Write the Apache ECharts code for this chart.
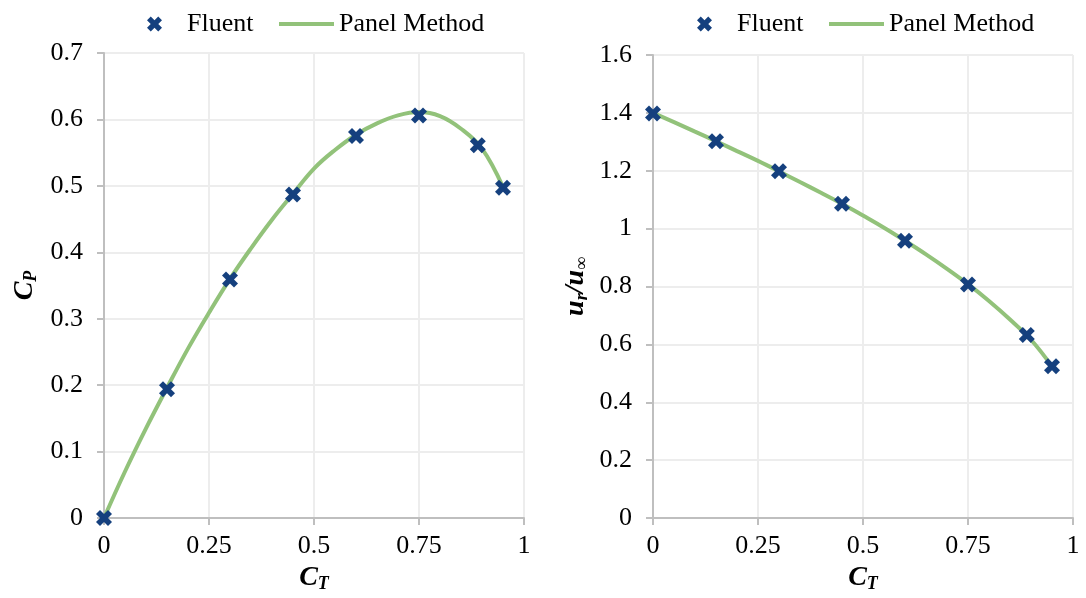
<!DOCTYPE html>
<html>
<head>
<meta charset="utf-8">
<script src="https://cdn.jsdelivr.net/npm/echarts@6/dist/echarts.min.js"></script>
<style>html,body{margin:0;padding:0;background:#fff;}#c{width:1086px;height:598px;}</style>
</head>
<body>
<div id="c"></div>
<script>
// Left chart: C_P vs C_T
var fluentCT = [0, 0.15, 0.3, 0.45, 0.6, 0.75, 0.89, 0.95];
var fluentCP = [0, 0.194, 0.359, 0.487, 0.575, 0.606, 0.561, 0.497];
var panelCT = [0, 0.05, 0.1, 0.15, 0.2, 0.25, 0.3, 0.35, 0.4, 0.45, 0.5, 0.55, 0.6, 0.65, 0.7, 0.75, 0.8, 0.85, 0.9, 0.95];
var panelCP = [0, 0.07, 0.135, 0.196, 0.255, 0.309, 0.36, 0.406, 0.449, 0.488, 0.526, 0.554, 0.577, 0.594, 0.606, 0.611, 0.605, 0.586, 0.556, 0.498];
// Right chart: u_r/u_inf vs C_T
var fluentUR = [1.398, 1.302, 1.198, 1.086, 0.958, 0.807, 0.632, 0.524];
var panelUR = [1.4, 1.368, 1.335, 1.302, 1.268, 1.234, 1.198, 1.161, 1.124, 1.086, 1.045, 1.003, 0.958, 0.911, 0.861, 0.808, 0.75, 0.686, 0.616, 0.524];
var xTicks = [0, 0.25, 0.5, 0.75, 1];

function zip(a, b) { return a.map(function (v, i) { return [v, b[i]]; }); }

var FONT = 'Liberation Serif';
var crossPath = 'path://M2.5,0 L5,2.5 L7.5,0 L10,2.5 L7.5,5 L10,7.5 L7.5,10 L5,7.5 L2.5,10 L0,7.5 L2.5,5 L0,2.5 Z';
var blue = '#15407E';
var green = '#92C27A';
var axisGray = '#BFBFBF';
var gridGray = '#EDEDED';

function xAxis(idx) {
  return {
    type: 'value', gridIndex: idx, min: 0, max: 1, interval: 0.25,
    name: '{c|C}{s|T}', nameLocation: 'middle', nameGap: 45,
    nameTextStyle: {
      rich: {
        c: { fontFamily: FONT, fontSize: 28, fontWeight: 'bold', fontStyle: 'italic', color: '#000' },
        s: { fontFamily: FONT, fontSize: 18, fontWeight: 'bold', fontStyle: 'italic', color: '#000', padding: [12, 0, 0, 0] }
      }
    },
    axisLine: { show: true, lineStyle: { color: axisGray, width: 2 } },
    axisTick: { show: true, length: 7, lineStyle: { color: axisGray, width: 2 } },
    splitLine: { show: true, lineStyle: { color: gridGray, width: 2 } },
    axisLabel: { fontFamily: FONT, fontSize: 26, color: '#000', margin: 15,
      formatter: function (v) { return String(v); } }
  };
}

function yAxis(idx, max, interval, name, rich, gap) {
  return {
    type: 'value', gridIndex: idx, min: 0, max: max, interval: interval,
    name: name, nameLocation: 'middle', nameGap: gap, nameRotate: 90,
    nameTextStyle: { rich: rich },
    axisLine: { show: true, lineStyle: { color: axisGray, width: 2 } },
    axisTick: { show: true, length: 7, lineStyle: { color: axisGray, width: 2 } },
    splitLine: { show: true, lineStyle: { color: gridGray, width: 2 } },
    axisLabel: { fontFamily: FONT, fontSize: 26, color: '#000', margin: 21,
      formatter: function (v) { return String(Math.round(v * 10) / 10); } }
  };
}

var bi = { fontFamily: FONT, fontWeight: 'bold', fontStyle: 'italic', color: '#000' };
function st(o) { var r = {}; for (var k in bi) r[k] = bi[k]; for (var k2 in o) r[k2] = o[k2]; return r; }

var legendText = { fontFamily: FONT, fontSize: 26, color: '#000' };
function legendScatter(left) {
  return {
    left: left, top: 11, data: [{ name: 'Fluent', icon: crossPath }], itemWidth: 55, itemHeight: 15,
    textStyle: legendText, selectedMode: false, padding: 0
  };
}
function legendLine(left) {
  return {
    left: left, top: 11, data: [{ name: 'Panel Method', icon: 'rect' }], itemWidth: 55, itemHeight: 4,
    textStyle: legendText, selectedMode: false, padding: 0
  };
}

var chart = echarts.init(document.getElementById('c'));
chart.setOption({
  animation: false,
  backgroundColor: '#fff',
  legend: [legendScatter(147), legendLine(279), legendScatter(697), legendLine(829)],
  grid: [
    { left: 104, right: 562, top: 53, bottom: 80 },
    { left: 653, right: 13, top: 55, bottom: 78 }
  ],
  xAxis: [xAxis(0), xAxis(1)],
  yAxis: [
    yAxis(0, 0.7, 0.1, '{c|C}{s|P}', { c: st({ fontSize: 28 }), s: st({ fontSize: 18, padding: [12, 0, 0, 0] }) }, 64),
    yAxis(1, 1.6, 0.2, '{c|u}{s|r}{c|/u}{s|∞}', { c: st({ fontSize: 28 }), s: st({ fontSize: 18, padding: [12, 0, 0, 0] }) }, 62)
  ],
  series: [
    { name: 'Panel Method', type: 'line', xAxisIndex: 0, yAxisIndex: 0, data: zip(panelCT, panelCP),
      smooth: 0.4, symbol: 'none', lineStyle: { color: green, width: 4 }, itemStyle: { color: green }, z: 2 },
    { name: 'Fluent', type: 'scatter', xAxisIndex: 0, yAxisIndex: 0, data: zip(fluentCT, fluentCP),
      symbol: crossPath, symbolSize: 16, itemStyle: { color: blue, opacity: 1 }, z: 3 },
    { name: 'Panel Method', type: 'line', xAxisIndex: 1, yAxisIndex: 1, data: zip(panelCT, panelUR),
      smooth: 0.4, symbol: 'none', lineStyle: { color: green, width: 4 }, itemStyle: { color: green }, z: 2 },
    { name: 'Fluent', type: 'scatter', xAxisIndex: 1, yAxisIndex: 1, data: zip(fluentCT, fluentUR),
      symbol: crossPath, symbolSize: 16, itemStyle: { color: blue, opacity: 1 }, z: 3 }
  ]
});
</script>
</body>
</html>
